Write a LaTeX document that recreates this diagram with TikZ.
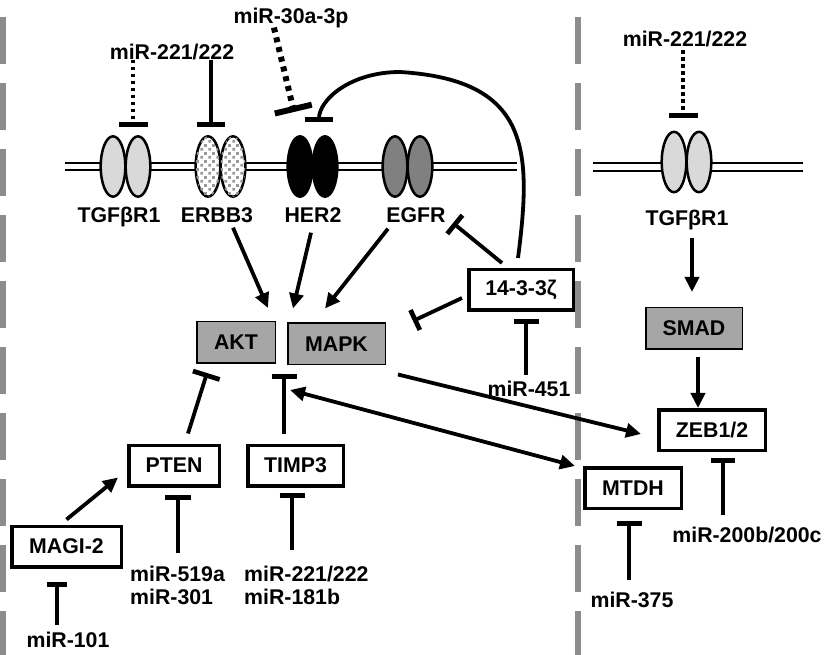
\documentclass[tikz,border=0pt]{standalone}
\usepackage{fontspec}
\setmainfont{Liberation Sans}
\usetikzlibrary{arrows.meta,patterns}

% gray squares for ERBB3
\pgfdeclarepatternformonly{sqdots}{\pgfpointorigin}{\pgfpoint{8pt}{8pt}}{\pgfpoint{8pt}{8pt}}{%
  \pgfpathrectangle{\pgfpoint{0.5pt}{0.5pt}}{\pgfpoint{3pt}{3pt}}%
  \pgfpathrectangle{\pgfpoint{4.5pt}{4.5pt}}{\pgfpoint{3pt}{3pt}}%
  \pgfusepath{fill}}

\begin{document}
\begin{tikzpicture}[x=1pt,y=-1pt,
  font=\fontsize{21.3}{23}\selectfont\bfseries,
  gbox/.style={draw,line width=1.5pt,fill=black!35,minimum width=#1,minimum height=41.5pt,inner sep=0pt},
  wbox/.style={draw,line width=3.5pt,fill=white,minimum width=#1,minimum height=40.5pt,inner sep=0pt},
  lab/.style={inner sep=0pt,text height=15pt,text depth=0pt},
  twolab/.style={inner sep=0pt,align=left,anchor=north west},
  act/.style={line width=3.8pt,-{Triangle[length=15pt,width=14pt]}},
  dblact/.style={line width=3.8pt,{Triangle[length=15pt,width=14pt]}-{Triangle[length=15pt,width=14pt]}},
  inh/.style={line width=3.8pt,-{Bar[width=#1,line width=0pt 1.25]}},
  inh/.default=26pt,
  inhdot/.style={inh=#1,dash pattern=on 3.5pt off 3.5pt},
  recA/.style={draw,line width=2.5pt},
  sepline/.style={line width=6pt,black!45,dash pattern=on 47pt off 19pt},
  membr/.style={line width=2pt}]
\useasboundingbox (0,0) rectangle (831,655);

% dashed separators
\draw[sepline] (3,17) -- (3,655);
\draw[sepline] (578,17) -- (578,655);

% membranes
\draw[membr] (65,163) -- (517,163) (65,170) -- (517,170);
\draw[membr] (593,163.5) -- (803,163.5) (593,171.5) -- (803,171.5);

% receptors
\foreach \cx/\fc in {113/black!15,138/black!15,300/black,325/black,395/black!50,420/black!50}
  \draw[recA,fill=\fc] (\cx,166.5) ellipse [x radius=12.3pt,y radius=30.2pt];
\foreach \cx in {208,233}
  \draw[recA,fill=white,postaction={pattern=sqdots,pattern color=black!40}] (\cx,166.5) ellipse [x radius=12.3pt,y radius=30.2pt];
\foreach \cx in {674,699}
  \draw[recA,fill=black!15] (\cx,162) ellipse [x radius=12.3pt,y radius=30.2pt];

% labels
\node[lab] (mirTgfL) at (172,52) {miR-221/222};
\node[lab] (mir30) at (291,16) {miR-30a-3p};
\node[lab] (mirTgfR) at (685,39) {miR-221/222};
\node[lab] (tgfL) at (119,215) {TGFβR1};
\node[lab] (erbb3) at (217,215) {ERBB3};
\node[lab] (her2) at (313,215) {HER2};
\node[lab] (egfr) at (416,215) {EGFR};
\node[lab] (tgfR) at (687,218) {TGFβR1};
\node[lab] (mir451) at (529,389) {miR-451};
\node[lab] (mir101) at (68,640) {miR-101};
\node[twolab] (mir519) at (130,566) {miR-519a\\miR-301};
\node[twolab] (mir221T) at (244,566) {miR-221/222\\miR-181b};
\node[lab] (mir375) at (632,600) {miR-375};
\node[lab] (mir200) at (747,535) {miR-200b/200c};

% boxes
\node[gbox=78.5pt] (akt) at (236,342.5) {AKT};
\node[gbox=97.5pt] (mapk) at (336.5,344) {MAPK};
\node[wbox=104.5pt] (z143) at (521,290) {14-3-3ζ};
\node[gbox=96.5pt] (smad) at (694,328.5) {SMAD};
\node[wbox=106.5pt] (zeb) at (712,430) {ZEB1/2};
\node[wbox=96.5pt] (mtdh) at (633,488) {MTDH};
\node[wbox=90.5pt] (pten) at (174,465.5) {PTEN};
\node[wbox=95.5pt] (timp) at (295.5,465.5) {TIMP3};
\node[wbox=109.5pt] (magi) at (66.5,546.5) {MAGI-2};

% bar positions
\coordinate (tgfLbar) at (133,127);
\coordinate (erbbBar) at (211,127);
\coordinate (her2Dot) at (294,112);
\coordinate (her2Bar) at (319,122);
\coordinate (tgfRbar) at (683,118);
\coordinate (egfrBar) at (453,223);
\coordinate (mapkBar) at (413,321);
\coordinate (aktBar) at (207,373);
\coordinate (timpTop) at (284,374);
\coordinate (crossL) at (290,390);
\coordinate (z143Bar) at (526,319);
\coordinate (ptenBar) at (178,495);
\coordinate (timpBar) at (292,493);
\coordinate (magiBar) at (57,582);
\coordinate (mtdhBar) at (629,521);
\coordinate (zebBar) at (723,458);

% miRNAs on receptors
\draw[inhdot=29pt] (mirTgfL.south -| tgfLbar) -- (tgfLbar);
\draw[inh=28pt] (mirTgfL.south -| erbbBar) -- (erbbBar);
\draw[line width=6pt,dash pattern=on 5pt off 5pt,-{Bar[width=38pt,line width=0pt 1]},shorten <=4pt] ([xshift=-18pt]mir30.south) -- (her2Dot);
\draw[inhdot=29pt,shorten <=3.5pt] (mirTgfR.south -| tgfRbar) -- (tgfRbar);

% 14-3-3 zeta
\draw[inh=28pt] ([xshift=-3pt,yshift=10pt]z143.north) .. controls (532,150) and (530,80) .. (400,72)
  .. controls (350,72) and (319,100) .. (her2Bar);
\draw[inh=24pt] ([xshift=-19pt,yshift=5pt]z143.north) -- (egfrBar);
\draw[inh=22pt] ([xshift=-5pt,yshift=-8pt]z143.west) -- (mapkBar);
\draw[inh=25pt,shorten <=6.5pt] (mir451.north -| z143Bar) -- (z143Bar);

% receptors to kinases
\draw[act] ([xshift=16pt,yshift=-5pt]erbb3.south) -- ([xshift=-8pt,yshift=13pt]akt.north east);
\draw[act] ([xshift=-2pt,yshift=-10pt]her2.south) -- ([xshift=6pt,yshift=14pt]mapk.north west);
\draw[act] ([xshift=-28pt,yshift=-6pt]egfr.south) -- ([xshift=38pt,yshift=14pt]mapk.north west);

% lower left
\draw[inh=28pt] ([xshift=14pt,yshift=10pt]pten.north) -- (aktBar);
\draw[inh=25pt] ([xshift=-11.5pt,yshift=10pt]timp.north) -- (timpTop);
\draw[act] ([yshift=5pt]magi.north) -- ([xshift=-9pt,yshift=-12pt]pten.west);
\draw[inh=20pt,shorten <=7.5pt] (mir101.north -| magiBar) -- (magiBar);
\draw[inh=26pt,shorten <=13pt] (mir519.north -| ptenBar) -- (ptenBar);
\draw[inh=25pt,shorten <=16pt] (mir221T.north -| timpBar) -- (timpBar);

% to the right
\draw[dblact] (crossL) -- ([xshift=-8pt]mtdh.north west);
\draw[act] ([xshift=12pt,yshift=-9pt]mapk.south east) -- ([xshift=-16pt,yshift=-4pt]zeb.west);
\draw[act] ([xshift=5pt,yshift=-12pt]tgfR.south) -- ([xshift=-2pt,yshift=15pt]smad.north);
\draw[act] ([xshift=4pt,yshift=-7pt]smad.south) -- ([xshift=-14pt]zeb.north);
\draw[inh=25pt,shorten <=12.5pt] (mir375.north -| mtdhBar) -- (mtdhBar);
\draw[inh=24pt,shorten <=12.5pt] (mir200.north -| zebBar) -- (zebBar);
\end{tikzpicture}
\end{document}
